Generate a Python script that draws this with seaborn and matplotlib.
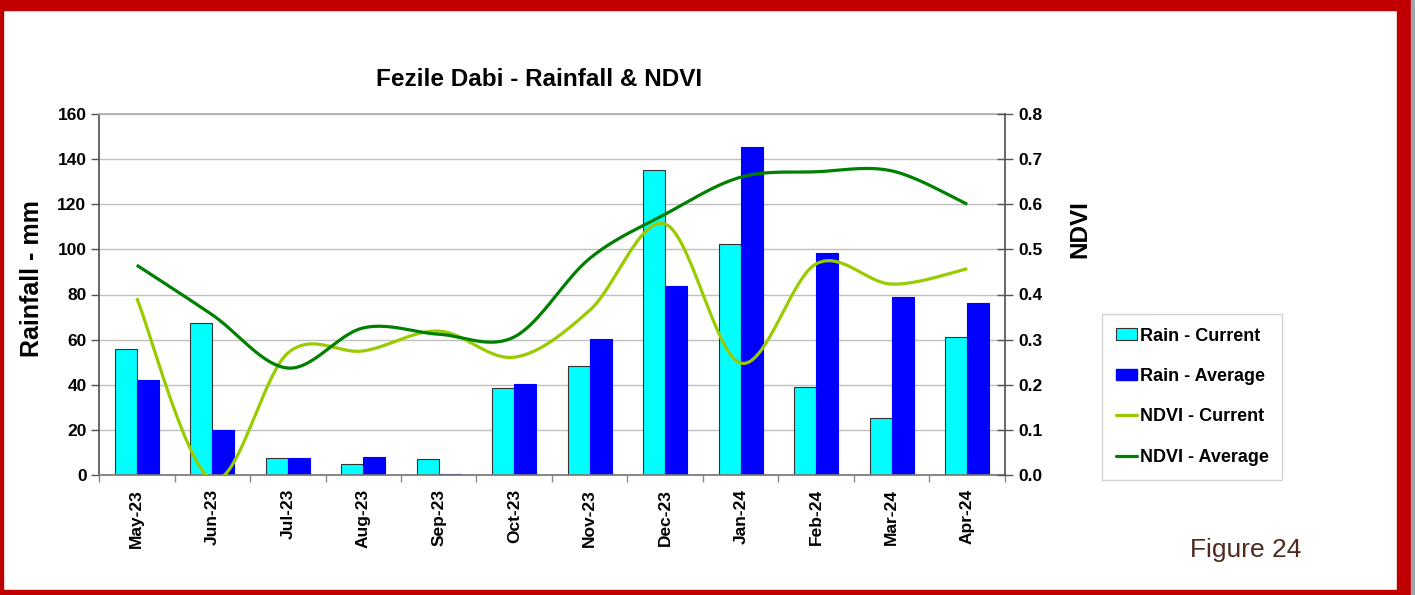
import numpy as np
import pandas as pd
import matplotlib.pyplot as plt
import seaborn as sns
from matplotlib.patches import Rectangle, Patch
from matplotlib.lines import Line2D

# data
months = ["May-23", "Jun-23", "Jul-23", "Aug-23", "Sep-23", "Oct-23",
          "Nov-23", "Dec-23", "Jan-24", "Feb-24", "Mar-24", "Apr-24"]
rain_current = [55.8, 67.4, 7.7, 5.0, 7.0, 38.5, 48.5, 135.3, 102.2, 38.8, 25.2, 61.2]
rain_average = [42.1, 19.9, 7.5, 8.0, 0.4, 40.5, 60.2, 83.8, 145.4, 98.2, 79.0, 76.2]
ndvi_current = [0.392, -0.01, 0.27, 0.275, 0.319, 0.261, 0.365, 0.556, 0.248, 0.468, 0.423, 0.457]
ndvi_average = [0.465, 0.355, 0.237, 0.326, 0.312, 0.306, 0.48, 0.578, 0.66, 0.672, 0.674, 0.60]

W, H = 1415, 595

sns.set_theme(style="white")
plt.rcParams['font.family'] = ['Liberation Sans', 'DejaVu Sans']
plt.rcParams['text.color'] = 'black'
plt.rcParams['xtick.color'] = 'black'
plt.rcParams['ytick.color'] = 'black'
plt.rcParams['axes.labelcolor'] = 'black'


def smooth(y, n=40):
    # excel style smoothed line (catmull-rom as bezier)
    y = np.asarray(y, float)
    x = np.arange(len(y), dtype=float)
    py = np.concatenate([[y[0]], y, [y[-1]]])
    px = np.concatenate([[x[0]], x, [x[-1]]])
    t = np.linspace(0, 1, n)[:, None]
    xs, ys = [], []
    for i in range(len(y) - 1):
        j = i + 1
        bx = [px[j], px[j] + (px[j + 1] - px[j - 1]) / 6, px[j + 1] - (px[j + 2] - px[j]) / 6, px[j + 1]]
        by = [py[j], py[j] + (py[j + 1] - py[j - 1]) / 6, py[j + 1] - (py[j + 2] - py[j]) / 6, py[j + 1]]
        c = np.hstack([(1 - t) ** 3, 3 * (1 - t) ** 2 * t, 3 * (1 - t) * t ** 2, t ** 3])
        xs.append(c @ np.array(bx))
        ys.append(c @ np.array(by))
    return np.concatenate(xs), np.concatenate(ys)


fig = plt.figure(figsize=(W / 100, H / 100), dpi=100)
fig.patch.set_facecolor("white")
ax = fig.add_axes([99 / W, 1 - 475 / H, 906 / W, 361 / H])

df = pd.DataFrame({
    "Month": months * 2,
    "Rain": rain_current + rain_average,
    "Series": ["Rain - Current"] * 12 + ["Rain - Average"] * 12,
})
sns.barplot(data=df, x="Month", y="Rain", hue="Series",
            palette=["#00FFFF", "#0000FF"], width=0.58, saturation=1,
            ax=ax, legend=False)
for i, p in enumerate(ax.patches):
    if i < 12:
        p.set_edgecolor("#333333")
    else:
        p.set_edgecolor("#0000FF")
    p.set_linewidth(0.8)

ax.set_xlim(-0.5, 11.5)
ax.set_ylim(0, 160)
ax.set_yticks(range(0, 161, 20))
ax.yaxis.grid(True, color="#c0c0c0", lw=1)
ax.set_axisbelow(True)
ax.set_xlabel("")
ax.set_ylabel("")
ax.set_xticks(range(12))
ax.set_xticklabels(months, rotation=90, fontsize=12.5, fontweight="bold")
ax.set_xticks(np.arange(-0.5, 12, 1), minor=True)
ax.tick_params(axis="x", which="major", length=0, pad=10)
ax.tick_params(axis="x", which="minor", length=5, width=1, color="#888888", direction="out", bottom=True)
ax.tick_params(axis="y", length=6, width=1, color="#555555", direction="out", left=True, pad=3,
               labelsize=12.5)
for lab in ax.get_yticklabels():
    lab.set_fontweight("bold")
ax.spines["left"].set_color("#555555")
ax.spines["bottom"].set_color("#777777")
ax.spines["top"].set_color("#b0b0b0")
ax.spines["right"].set_visible(False)

ax2 = ax.twinx()
ax2.set_ylim(0, 0.8)
ax2.set_yticks(np.arange(0, 0.81, 0.1))
ax2.set_yticklabels([f"{v:.1f}" for v in np.arange(0, 0.81, 0.1)], fontsize=12.5, fontweight="bold")
ax2.tick_params(axis="y", length=11, width=1, color="#555555", direction="inout", right=True, pad=4)
ax2.spines["right"].set_color("#555555")
for s in ["left", "top", "bottom"]:
    ax2.spines[s].set_visible(False)

xs, ys = smooth(ndvi_current)
ax2.plot(xs, ys, color="#99CC00", lw=2.3, solid_capstyle="butt")
xs, ys = smooth(ndvi_average)
ax2.plot(xs, ys, color="#008000", lw=2.3, solid_capstyle="butt")

fig.text(539 / W, 1 - 80 / H, "Fezile Dabi - Rainfall & NDVI", ha="center", va="center",
         fontsize=17.5, fontweight="bold")
fig.text(32 / W, 1 - 279 / H, "Rainfall - mm", rotation=90, ha="center", va="center",
         fontsize=18, fontweight="bold")
fig.text(1080 / W, 1 - 229 / H, "NDVI", rotation=90, ha="center", va="center",
         fontsize=17.5, fontweight="bold")

handles = [
    Patch(facecolor="#00FFFF", edgecolor="#333333", lw=0.8),
    Patch(facecolor="#0000FF", edgecolor="#0000FF"),
    Line2D([], [], color="#99CC00", lw=2.3),
    Line2D([], [], color="#008000", lw=2.3),
]
leg = fig.legend(handles, ["Rain - Current", "Rain - Average", "NDVI - Current", "NDVI - Average"],
                 loc="upper left", bbox_to_anchor=(1102 / W, 1 - 314 / H), borderaxespad=0,
                 prop={"size": 13, "weight": "bold"}, frameon=True, fancybox=False,
                 edgecolor="#c8c8c8", labelspacing=1.3, handlelength=1.2, handletextpad=0.15,
                 borderpad=0.75, handleheight=0.6)
leg.get_frame().set_linewidth(1)

fig.text(1246 / W, 1 - 550 / H, "Figure 24", ha="center", va="center", fontsize=19, color="#4F2A1E")

# red slide frame
for x0, y0, w, h, col in [(0, 0, 1411, 10, "#C00000"), (0, 0, 3, 595, "#C00000"),
                          (1397, 0, 14, 595, "#C00000"), (0, 590, 1411, 5, "#C00000"),
                          (1411, 0, 4, 595, "#9aa5b0")]:
    fig.patches.append(Rectangle((x0 / W, 1 - (y0 + h) / H), w / W, h / H,
                                 transform=fig.transFigure, color=col, zorder=10))

fig.savefig("out.png", dpi=100)
